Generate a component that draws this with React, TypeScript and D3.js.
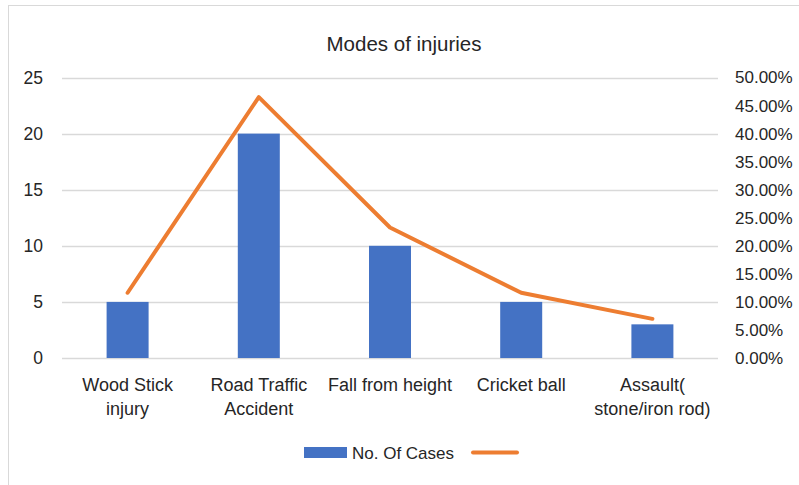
import React from "react";
import * as d3 from "d3";

const categories = ["Wood Stick injury", "Road Traffic Accident", "Fall from height", "Cricket ball", "Assault( stone/iron rod)"];
const categoryLines = [["Wood Stick", "injury"], ["Road Traffic", "Accident"], ["Fall from height"], ["Cricket ball"], ["Assault(", "stone/iron rod)"]];
const cases = [5, 20, 10, 5, 3];
const percents = [0.1163, 0.4651, 0.2326, 0.1163, 0.0698];
const leftTicks = [0, 5, 10, 15, 20, 25];
const rightTicks = [0, 0.05, 0.1, 0.15, 0.2, 0.25, 0.3, 0.35, 0.4, 0.45, 0.5];

const W = 799, H = 485;
const FONT = "'Liberation Sans', Arial, sans-serif";

export default function App() {
  const x = d3.scaleBand<string>().domain(categories).range([62, 718]).paddingInner(0.68).paddingOuter(0.34);
  const yL = d3.scaleLinear().domain([0, 25]).range([358, 77.5]);
  const yR = d3.scaleLinear().domain([0, 0.5]).range([358, 77.5]);
  const bandW = x.step();
  const barW = 42;
  const cx = (c: string) => (x(c) as number) + x.bandwidth() / 2;
  const line = d3.line<number>().x((_, i) => cx(categories[i])).y((d) => yR(d));
  const pctFmt = d3.format(".2%");

  return (
    <svg width={W} height={H} style={{ position: "absolute", left: 0, top: 0, background: "#fff" }}>
      <rect x={8.5} y={5.5} width={W + 10} height={H + 10} fill="#fff" stroke="#d9d9d9" strokeWidth={1} />
      <text x={404} y={51} textAnchor="middle" fontFamily={FONT} fontSize={20.5} fill="#262626">Modes of injuries</text>
      {leftTicks.map((t) => (
        <g key={t}>
          <line x1={62} x2={718} y1={Math.round(yL(t)) + 0.5} y2={Math.round(yL(t)) + 0.5} stroke="#d9d9d9" strokeWidth={1.3} />
          <text x={43} y={yL(t)} dy="0.35em" textAnchor="end" fontFamily={FONT} fontSize={17.5} fill="#262626">{t}</text>
        </g>
      ))}
      {rightTicks.map((t) => (
        <text key={t} x={735} y={yR(t)} dy="0.35em" textAnchor="start" fontFamily={FONT} fontSize={17} fill="#262626">{pctFmt(t)}</text>
      ))}
      {categories.map((c, i) => (
        <rect key={c} x={cx(c) - barW / 2} y={yL(cases[i])} width={barW} height={yL(0) - yL(cases[i])} fill="#4472c4" />
      ))}
      <path d={line(percents) || ""} fill="none" stroke="#ed7d31" strokeWidth={4} strokeLinecap="round" strokeLinejoin="round" />
      {categories.map((c, i) => (
        <text key={c} x={cx(c)} y={391} textAnchor="middle" fontFamily={FONT} fontSize={18} fill="#262626">
          {categoryLines[i].map((l, j) => (
            <tspan key={j} x={cx(c)} dy={j === 0 ? 0 : 24}>{l}</tspan>
          ))}
        </text>
      ))}
      <rect x={304} y={447} width={43} height={11} fill="#4472c4" />
      <text x={352} y={459} fontFamily={FONT} fontSize={17} fill="#262626">No. Of Cases</text>
      <line x1={473} x2={517} y1={452.5} y2={452.5} stroke="#ed7d31" strokeWidth={4} strokeLinecap="round" />
      <desc>{String(bandW)}</desc>
    </svg>
  );
}
